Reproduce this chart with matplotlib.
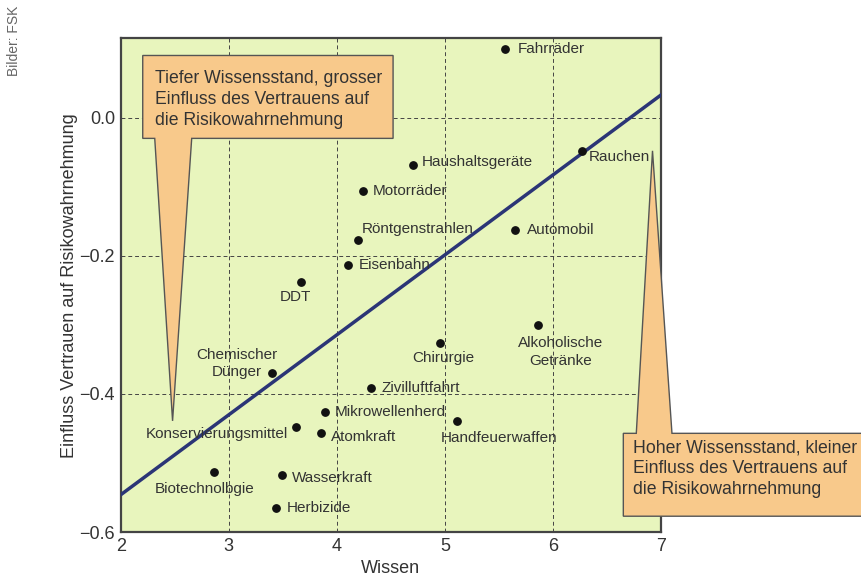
import matplotlib.pyplot as plt
from matplotlib.patches import Polygon

plt.rcParams['font.family'] = ['Liberation Sans', 'DejaVu Sans']

# Daten: Wissen (x) und Einfluss Vertrauen (y)
labels = ['Fahrräder', 'Rauchen', 'Haushaltsgeräte', 'Motorräder', 'Röntgenstrahlen',
          'Automobil', 'Eisenbahn', 'DDT', 'Alkoholische\nGetränke', 'Chirurgie',
          'Chemischer\nDünger', 'Zivilluftfahrt', 'Mikrowellenherd', 'Handfeuerwaffen',
          'Konservierungsmittel', 'Atomkraft', 'Biotechnolbgie', 'Wasserkraft', 'Herbizide']
wissen = [5.56, 6.27, 4.70, 4.24, 4.20, 5.65, 4.10, 3.67, 5.86, 4.95,
          3.40, 4.32, 3.89, 5.11, 3.62, 3.85, 2.86, 3.49, 3.44]
vertrauen = [0.100, -0.048, -0.068, -0.106, -0.177, -0.162, -0.213, -0.238, -0.300, -0.326,
             -0.370, -0.391, -0.426, -0.439, -0.448, -0.457, -0.513, -0.517, -0.565]

# Regressionsgerade
trend_x = [2, 7]
trend_y = [-0.546, 0.033]

xticks = [2, 3, 4, 5, 6, 7]
yticks = [0.0, -0.2, -0.4, -0.6]
ytick_labels = ['0.0', '\u22120.2', '\u22120.4', '\u22120.6']

# label placement (pixel offsets, ha)
offs = [(12, 0, 'left'), (7, -6, 'left'), (9, 3, 'left'), (10, 0, 'left'), (3, 11, 'left'),
        (12, 0, 'left'), (11, 0, 'left'), (-6, -15, 'center'), (23, -27, 'center'),
        (4, -15, 'center'), (-35, 10, 'center'), (10, 0, 'left'), (10, 0, 'left'),
        (-16, -17, 'left'), (-8, -7, 'right'), (10, -4, 'left'), (-9, -17, 'center'),
        (10, -3, 'left'), (10, 0, 'left')]

fig = plt.figure(figsize=(8.62, 5.79), dpi=100)
ax = fig.add_axes([0.140, 0.081, 0.627, 0.853])
ax.set_facecolor('#e8f5bd')

ax.set_xlim(2, 7)
ax.set_ylim(-0.6, 0.115)
ax.set_xticks(xticks)
ax.set_yticks(yticks)
ax.set_yticklabels(ytick_labels)
ax.tick_params(length=0, labelsize=13, colors='#333333', pad=4)
ax.grid(True, linestyle=(0, (4, 3)), color='#444444', linewidth=0.7)
ax.set_axisbelow(True)
for s in ax.spines.values():
    s.set_color('#444444')
    s.set_linewidth(1.6)

ax.plot(trend_x, trend_y, color='#2b3576', linewidth=2.5, zorder=3)
ax.scatter(wissen, vertrauen, s=28, color='#111111', zorder=4)

for lab, x, y, (dx, dy, ha) in zip(labels, wissen, vertrauen, offs):
    ax.annotate(lab, (x, y), xytext=(dx, dy), textcoords='offset pixels',
                ha=ha, va='center', fontsize=11, color='#333333',
                multialignment='center', linespacing=1.3, zorder=5)

# Sprechblasen
box1 = [(2.204, 0.090), (4.52, 0.090), (4.52, -0.030), (2.657, -0.030),
        (2.48, -0.439), (2.315, -0.030), (2.204, -0.030)]
box2 = [(6.65, -0.577), (6.65, -0.457), (6.77, -0.457), (6.92, -0.048),
        (7.10, -0.457), (9.5, -0.457), (9.5, -0.577)]
for pts in (box1, box2):
    ax.add_patch(Polygon(pts, closed=True, facecolor='#f8c98b', edgecolor='#555555',
                         linewidth=1.0, zorder=6, clip_on=False))

ax.text(2.32, 0.069, 'Tiefer Wissensstand, grosser\nEinfluss des Vertrauens auf\ndie Risikowahrnehmung',
        fontsize=12.7, color='#333333', va='top', ha='left', linespacing=1.3, zorder=7)
ax.text(6.74, -0.466, 'Hoher Wissensstand, kleiner\nEinfluss des Vertrauens auf\ndie Risikowahrnehmung',
        fontsize=12.7, color='#333333', va='top', ha='left', linespacing=1.3, zorder=7,
        clip_on=False)

ax.set_xlabel('Wissen', fontsize=13, color='#333333', labelpad=4)
ax.set_ylabel('Einfluss Vertrauen auf Risikowahrnehmung', fontsize=13, color='#333333', labelpad=1)

fig.text(0.008, 0.99, 'Bilder: FSK', rotation=90, fontsize=10, color='#666666',
         ha='left', va='top')

fig.savefig('out.png', dpi=100)
